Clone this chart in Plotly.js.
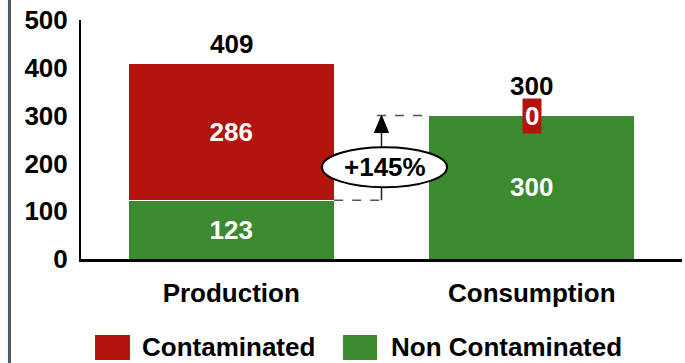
<!DOCTYPE html>
<html>
<head>
<meta charset="utf-8">
<script src="https://cdn.plot.ly/plotly-3.0.1.min.js"></script>
<style>html,body{margin:0;padding:0;background:#fff}#chart{width:685px;height:363px}</style>
</head>
<body>
<div id="chart"></div>
<script>
const categories = ['Production', 'Consumption'];
const nonContaminated = [123, 300];
const contaminated = [286, 0];
const seriesNames = ['Contaminated', 'Non Contaminated'];
const changeLabel = '+145%';
const yTicks = [0, 100, 200, 300, 400, 500];

const RED = '#b3140d';
const GREEN = '#3c8a2f';
const FONT = 'Liberation Sans, Arial, sans-serif';
const FS = 26;

const totals = categories.map((c, i) => nonContaminated[i] + contaminated[i]);

const traces = [
  {
    type: 'bar', name: seriesNames[1], x: categories, y: nonContaminated,
    marker: {color: GREEN, line: {color: '#ffffff', width: 1}},
    text: nonContaminated.map(v => v > 0 ? String(v) : ''),
    textposition: 'inside', insidetextanchor: 'middle', textangle: 0,
    textfont: {family: FONT, size: FS, color: '#ffffff', weight: 'bold'},
    hoverinfo: 'skip'
  },
  {
    type: 'bar', name: seriesNames[0], x: categories, y: contaminated,
    marker: {color: RED, line: {color: '#ffffff', width: 1}},
    text: contaminated.map(v => v > 0 ? String(v) : ''),
    textposition: 'inside', insidetextanchor: 'middle', textangle: 0,
    textfont: {family: FONT, size: FS, color: '#ffffff', weight: 'bold'},
    hoverinfo: 'skip'
  }
];

const halfBar = (1 - 0.315) / 2;
const yLow = nonContaminated[0];
const yHigh = totals[1];

const annotations = [];
categories.forEach((c, i) => {
  annotations.push({
    x: c, y: totals[i], xref: 'x', yref: 'y', text: String(totals[i]),
    showarrow: false, yanchor: 'middle', yshift: contaminated[i] > 0 ? 20 : 30,
    font: {family: FONT, size: FS, color: '#000', weight: 'bold'}
  });
  if (contaminated[i] === 0) {
    annotations.push({
      x: c, y: totals[i], xref: 'x', yref: 'y', text: String(contaminated[i]),
      showarrow: false, yanchor: 'middle', bgcolor: RED, borderpad: 2,
      font: {family: FONT, size: FS, color: '#fff', weight: 'bold'}
    });
  }
});
annotations.push({
  x: 0.51, y: 192, xref: 'x', yref: 'y', text: changeLabel, showarrow: false,
  font: {family: FONT, size: FS, color: '#000', weight: 'bold'}
});
// custom legend
const legendItems = [
  {name: seriesNames[0], color: RED, x0: 0.0233, x1: 0.0815, tx: 0.1},
  {name: seriesNames[1], color: GREEN, x0: 0.436, x1: 0.4925, tx: 0.5145}
];
legendItems.forEach(it => {
  annotations.push({
    x: it.tx, y: -0.4351, xref: 'paper', yref: 'paper', text: it.name,
    showarrow: false, xanchor: 'left', yanchor: 'bottom', borderpad: 0,
    font: {family: FONT, size: FS, color: '#000', weight: 'bold'}
  });
});

const shapes = [
  // left slate bar
  {type: 'rect', xref: 'paper', yref: 'paper', x0: -0.1215, x1: -0.1165, y0: -0.5, y1: 1.2,
   fillcolor: '#4b5a6e', line: {width: 0}, layer: 'above'},
  // dashed guides
  {type: 'line', xref: 'x', yref: 'y', x0: halfBar, x1: 0.52, y0: yLow, y1: yLow,
   line: {color: '#555', width: 1.5, dash: 'dash'}},
  {type: 'line', xref: 'x', yref: 'y', x0: 0.485, x1: 1 - halfBar, y0: yHigh, y1: yHigh,
   line: {color: '#555', width: 1.5, dash: 'dash'}},
  // arrow shaft
  {type: 'line', xref: 'x', yref: 'y', x0: 0.5, x1: 0.5, y0: yLow, y1: yHigh - 20,
   line: {color: '#222', width: 1.5}},
  // arrow head
  {type: 'path', xref: 'x', yref: 'y',
   path: `M 0.4767 ${yHigh - 35.5} L 0.5 ${yHigh} L 0.5233 ${yHigh - 35.5} Z`,
   fillcolor: '#000', line: {color: '#000', width: 1}},
  // ellipse
  {type: 'circle', xref: 'x', yref: 'y', x0: 0.302, x1: 0.718, y0: 150, y1: 234,
   fillcolor: '#fff', line: {color: '#000', width: 2}}
];
legendItems.forEach(it => {
  shapes.push({type: 'rect', xref: 'paper', yref: 'paper', x0: it.x0, x1: it.x1,
    y0: -0.4226, y1: -0.318, fillcolor: it.color, line: {width: 0}});
});

const layout = {
  width: 685, height: 363,
  margin: {l: 81, r: 3, t: 20, b: 104},
  paper_bgcolor: '#fff', plot_bgcolor: '#fff',
  barmode: 'stack', bargap: 0.315,
  showlegend: false,
  font: {family: FONT, color: '#000'},
  xaxis: {
    type: 'category', range: [-0.5, 1.5], showline: true, linecolor: '#000', linewidth: 2.5,
    showgrid: false, zeroline: false, ticks: '', ticklabelstandoff: 9,
    tickfont: {family: FONT, size: FS, color: '#000', weight: 'bold'}
  },
  yaxis: {
    range: [0, 500], tickvals: yTicks, ticktext: yTicks.map(String),
    showline: true, linecolor: '#000', linewidth: 2, showgrid: false, zeroline: false,
    ticks: '', ticklabelstandoff: 6,
    tickfont: {family: FONT, size: FS, color: '#000', weight: 'bold'}
  },
  shapes: shapes,
  annotations: annotations
};

Plotly.newPlot('chart', traces, layout, {displayModeBar: false, staticPlot: true});
</script>
</body>
</html>
